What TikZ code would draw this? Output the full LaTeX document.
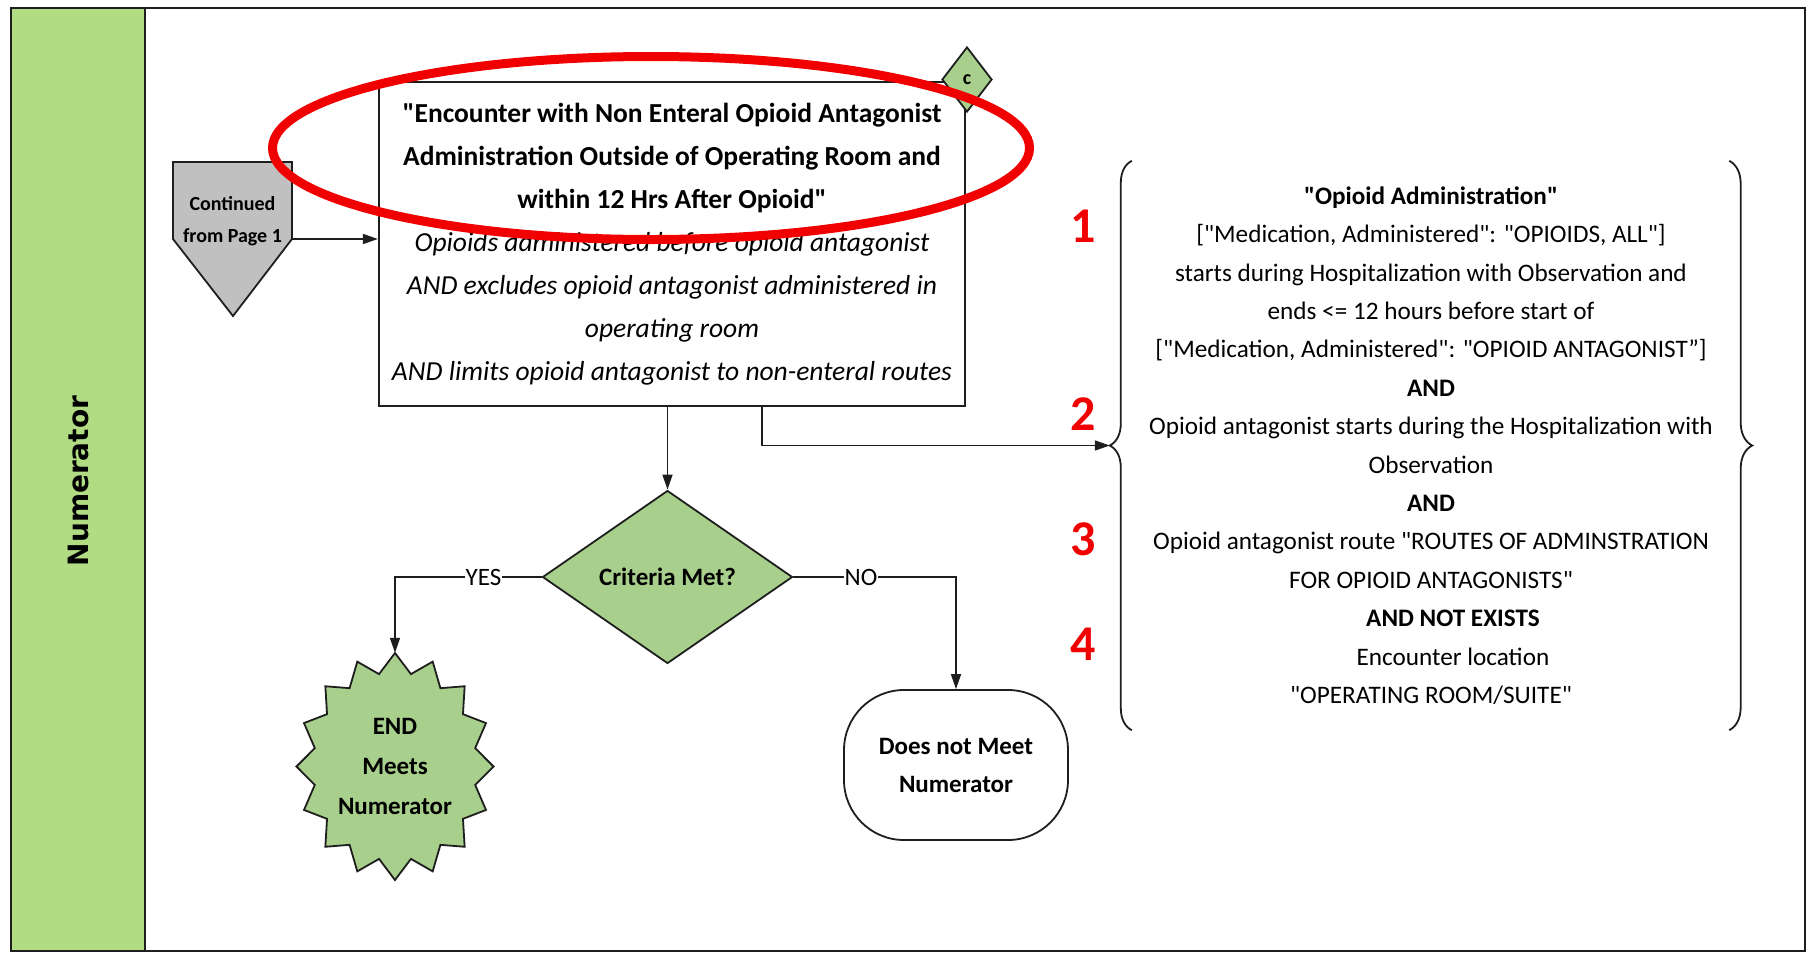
\documentclass[tikz,border=0pt]{standalone}
\usepackage{fontspec}
\setmainfont{Carlito}[Ligatures=TeXOff]
\newfontfamily\lanefont{DejaVu Sans}
\usetikzlibrary{shapes.geometric,arrows.meta,calc,decorations.pathreplacing}
\definecolor{lanegreen}{RGB}{178,220,132}
\definecolor{shapegreen}{RGB}{168,208,140}
\definecolor{shapegray}{RGB}{192,192,192}
\definecolor{linec}{RGB}{30,30,30}
\definecolor{annot}{RGB}{240,0,0}
\tikzset{
  arr/.style={draw=linec, line width=1.6pt, -{Triangle[length=15pt,width=10pt]}},
  boxline/.style={draw=linec, line width=1.8pt},
  maintxt/.style={font=\fontsize{27.5}{43}\selectfont, align=center},
  condtxt/.style={font=\fontsize{25.2}{38.4}\selectfont, align=center},
  shapetxt/.style={font=\bfseries\fontsize{25}{40}\selectfont, align=center},
  lbl/.style={fill=white, inner sep=1pt, font=\fontsize{25}{25}\selectfont},
  rednum/.style={text=annot, font=\bfseries\fontsize{50}{50}\selectfont, inner sep=0},
}
\begin{document}
\begin{tikzpicture}[x=1pt,y=-1pt]
\useasboundingbox (0,0) rectangle (1810,954);
% lane and frame
\fill[lanegreen] (11,8) rectangle (145,951);
\draw[line width=1.8pt, linec] (11,8) rectangle (1805,951);
\draw[line width=1.8pt, linec] (145,8) -- (145,951);
\node[rotate=90, font=\lanefont\bfseries\fontsize{28}{28}\selectfont] (lane) at (78,481) {Numerator};

% continued from page 1
\draw[boxline, fill=shapegray] (173,162) -- (292,162) -- (292,239) -- (233,316) -- (173,239) -- cycle;
\node[font=\bfseries\fontsize{20}{32}\selectfont, align=center] (cont) at (232.5,221) {Continued\\from Page 1};
\coordinate (contR) at (292,239);

% main box
\node[boxline, fill=white, minimum width=586.5pt, minimum height=323.5pt, inner sep=0, maintxt] (main) at (672,244)
 {{\bfseries "Encounter with Non Enteral Opioid Antagonist}\\
  {\bfseries Administration Outside of Operating Room and}\\
  {\bfseries within 12 Hrs After Opioid"}\\
  {\itshape Opioids administered before opioid antagonist}\\
  {\itshape AND excludes opioid antagonist administered in}\\
  {\itshape operating room}\\
  {\itshape AND limits opioid antagonist to non-enteral routes}};
\node[diamond, boxline, fill=shapegreen, minimum width=50pt, minimum height=65pt, inner sep=0,
      font=\bfseries\fontsize{20}{20}\selectfont] (cdia) at (967,79.5) {c};

\draw[arr] (contR) -- (contR -| main.west);

% conditions block
\node[condtxt, minimum width=642pt, minimum height=569pt, inner sep=0] (cond) at (1431,445.5)
 {{\bfseries "Opioid Administration"}\\
  {}["Medication, Administered": "OPIOIDS, ALL"]\\
  starts during Hospitalization with Observation and\\
  ends <= 12 hours before start of\\
  {}["Medication, Administered": "OPIOID ANTAGONIST”]\\
  {\bfseries AND}\\
  Opioid antagonist starts during the Hospitalization with\\
  Observation\\
  {\bfseries AND}\\
  Opioid antagonist route "ROUTES OF ADMINSTRATION\\
  FOR OPIOID ANTAGONISTS"\\
  \hspace*{44pt}{\bfseries AND NOT EXISTS}\\
  \hspace*{44pt}Encounter location\\
  "OPERATING ROOM/SUITE"};
\draw[boxline, decorate, decoration={brace, amplitude=22pt}]
  ($(cond.south west)+(22,0)$) -- ($(cond.north west)+(22,0)$);
\draw[boxline, decorate, decoration={brace, amplitude=23pt}]
  ($(cond.north east)+(-23,0)$) -- ($(cond.south east)+(-23,0)$);

% decision
\node[diamond, boxline, fill=shapegreen, minimum width=250pt, minimum height=173pt, inner sep=0,
      shapetxt] (crit) at (667.5,577) {Criteria Met?};

% star end node
\draw[boxline, fill=shapegreen] plot[samples at={0,...,31}, variable=\i]
  ({395+(isodd(\i)?0.83:1)*98.5*cos(90+11.25*\i)}, {766.5+(isodd(\i)?0.83:1)*113.5*sin(90+11.25*\i)}) -- cycle;
\node[shapetxt, minimum width=197pt, minimum height=227pt, inner sep=0] (star) at (395,766.5) {END\\Meets\\Numerator};

% does not meet
\node[boxline, fill=white, rounded corners=60pt, minimum width=224pt, minimum height=150pt, inner sep=0,
      font=\bfseries\fontsize{25}{38}\selectfont, align=center] (dnm) at (956,765) {Does not Meet\\Numerator};

% connectors
\draw[arr] (main.south -| crit.north) -- (crit.north);
\draw[arr] ($(main.south)+(90,0)$) |- (cond.west);
\draw[arr] (crit.west) -| node[lbl, pos=0.198] {YES} (star.north);
\draw[arr] (crit.east) -| node[lbl, pos=0.208] {NO} (dnm.north);

% annotations
\node[draw=annot, line width=9pt, ellipse, minimum width=757pt, minimum height=183pt, inner sep=0] (ann) at (651,148) {};
\node[rednum] (n1) at (1083,226.5) {1};
\node[rednum] (n2) at (1083,414.5) {2};
\node[rednum] (n3) at (1083,539) {3};
\node[rednum] (n4) at (1083,644.5) {4};
\end{tikzpicture}
\end{document}
